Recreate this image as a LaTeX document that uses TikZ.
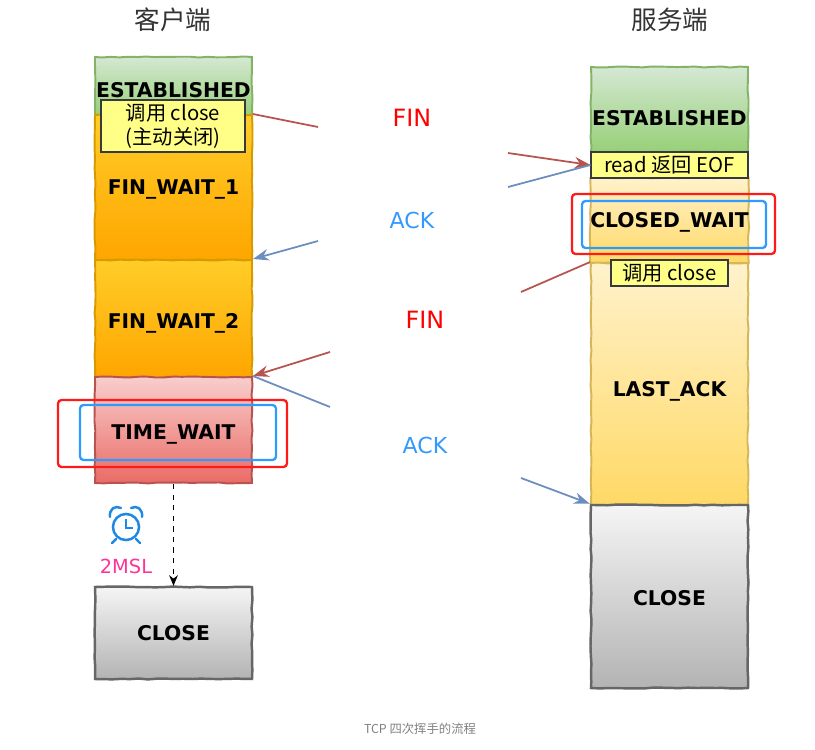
\documentclass[tikz,border=0pt]{standalone}
\usepackage{fontspec}
\setmainfont{DejaVu Sans}
\newfontfamily\cjk{Noto Sans CJK SC}
\usepackage{tikz}
\usetikzlibrary{arrows.meta}
\usetikzlibrary{decorations.pathmorphing}

\definecolor{estline}{HTML}{82B366}
\definecolor{esttop}{HTML}{D5E8D4}
\definecolor{estbot}{HTML}{97D077}
\definecolor{fwline}{HTML}{D79B00}
\definecolor{fwtop}{HTML}{FFCD28}
\definecolor{fwbot}{HTML}{FFA500}
\definecolor{twline}{HTML}{B85450}
\definecolor{twtop}{HTML}{F8CECC}
\definecolor{twbot}{HTML}{EA6B66}
\definecolor{lwline}{HTML}{D6B656}
\definecolor{lwtop}{HTML}{FFF2CC}
\definecolor{lwbot}{HTML}{FFD966}
\definecolor{clline}{HTML}{666666}
\definecolor{cltop}{HTML}{F5F5F5}
\definecolor{clbot}{HTML}{B3B3B3}
\definecolor{notefill}{HTML}{FFFF88}
\definecolor{noteline}{HTML}{36393D}
\definecolor{finred}{HTML}{B85450}
\definecolor{ackblue}{HTML}{6C8EBF}
\definecolor{finlabel}{HTML}{FF0000}
\definecolor{acklabel}{HTML}{3399FF}
\definecolor{hired}{HTML}{FF1A1A}
\definecolor{hiblue}{HTML}{2E9BFF}
\definecolor{clockblue}{HTML}{1E88E5}
\definecolor{mslpink}{HTML}{FF3399}
\newcommand\pxl{0.567pt}

\begin{document}
\begin{tikzpicture}[x=0.567pt,y=-0.567pt,
	stbox/.style={draw, line width=1.1pt, minimum width=157*\pxl, inner sep=0pt,
		text height=8.4pt, text depth=0pt,
		font=\bfseries\fontsize{11.5}{13}\selectfont,
		decorate, decoration={random steps,segment length=5pt,amplitude=0.3pt}},
	est/.style={stbox, draw=estline, top color=esttop, bottom color=estbot},
	fw/.style={stbox, draw=fwline, top color=fwtop, bottom color=fwbot},
	tw/.style={stbox, draw=twline, top color=twtop, bottom color=twbot},
	lw/.style={stbox, draw=lwline, top color=lwtop, bottom color=lwbot},
	cl/.style={stbox, draw=clline, line width=1.4pt, top color=cltop, bottom color=clbot},
	note/.style={draw=noteline, fill=notefill, line width=0.6pt, inner sep=0pt,
		font=\cjk\fontsize{11.5}{13.5}\selectfont, align=center},
	finline/.style={draw=finred, line width=1pt},
	ackline/.style={draw=ackblue, line width=1pt},
	arrowtip/.style={-{Stealth[length=9pt,width=6.5pt]}},
	msglabel/.style={font=\fontsize{12.5}{14}\selectfont},
	hibox/.style={line width=1.3pt, rounded corners=2pt}]
\useasboundingbox (0,0) rectangle (815,750);

% titles
\node[font=\cjk\fontsize{14.5}{16}\selectfont, text=black!80] (cTitle) at (173,20) {客户端};
\node[font=\cjk\fontsize{14.5}{16}\selectfont, text=black!80] (sTitle) at (670,20) {服务端};

% client states
\node[est, minimum height=58*\pxl, text height=12.9pt] (cEst) at (173.5,86) {ESTABLISHED};
\node[fw, minimum height=145*\pxl] (cFw1) at (173.5,187.5) {FIN\_WAIT\_1};
\node[fw, minimum height=117*\pxl, text height=11.2pt] (cFw2) at (173.5,318.5) {FIN\_WAIT\_2};
\node[tw, minimum height=106*\pxl, text height=10.6pt] (cTw) at (173.5,430) {TIME\_WAIT};
\node[cl, minimum height=92*\pxl] (cClose) at (173.5,633) {CLOSE};
\node[note, minimum width=144*\pxl, minimum height=52*\pxl] (cNote) at (173,126) {调用 close\\(主动关闭)};

% server states
\node[est, minimum height=85*\pxl, text height=18pt] (sEst) at (669.5,109.5) {ESTABLISHED};
\node[lw, minimum height=85*\pxl] (sCw) at (669.5,220.5) {CLOSED\_WAIT};
\node[lw, minimum height=242*\pxl, text height=14pt] (sLa) at (669.5,384) {LAST\_ACK};
\node[cl, minimum height=183*\pxl, text height=10pt] (sClose) at (669.5,596.5) {CLOSE};
\node[note, minimum width=157*\pxl, minimum height=26*\pxl] (sEof) at (669.5,165) {read 返回 EOF};
\node[note, minimum width=117*\pxl, minimum height=26*\pxl] (sNote) at (669.5,273) {调用 close};

% highlight frames
\draw[hibox, hired] (58,400) rectangle (287,467);
\draw[hibox, hiblue] (80,405) rectangle (276,460);
\draw[hibox, hired] (572,194) rectangle (775,254);
\draw[hibox, hiblue] (582,201) rectangle (766,248);

% gaps in the connectors
\coordinate (f1a) at (318,127);
\coordinate (f1b) at (508,153);
\coordinate (a1a) at (508,187);
\coordinate (a1b) at (318,241);
\coordinate (f2a) at (521,292);
\coordinate (f2b) at (330,352);
\coordinate (a2a) at (330,407);
\coordinate (a2b) at (521,478);

% FIN / ACK
\draw[finline] (cFw1.north east) -- (f1a);
\draw[finline, arrowtip] (f1b) -- (sEof.west);
\draw[ackline] (sEof.west) -- (a1a);
\draw[ackline, arrowtip] (a1b) -- (cFw2.north east);
\draw[finline] (sLa.north west) -- (f2a);
\draw[finline, arrowtip] (f2b) -- (cTw.north east);
\draw[ackline] (cTw.north east) -- (a2a);
\draw[ackline, arrowtip] (a2b) -- (sClose.north west);

\node[msglabel, font=\fontsize{13.5}{15}\selectfont, text=finlabel] (finA) at (412,118) {FIN};
\node[msglabel, text=acklabel] (ackA) at (412,220) {ACK};
\node[msglabel, font=\fontsize{13.5}{15}\selectfont, text=finlabel] (finB) at (425,320) {FIN};
\node[msglabel, text=acklabel] (ackB) at (425,445) {ACK};

% 2MSL timer
\draw[dashed, line width=0.7pt, -{Stealth[length=6pt,width=5pt]}] (cTw.south) -- (cClose.north);
\draw[clockblue, line width=1.4pt] (126,527) circle[radius=7.4pt];
\draw[clockblue, line width=1.2pt] (126,519) -- (126,528) -- (133,528);
\draw[clockblue, line width=1.4pt, line cap=round] (110,517) .. controls (109,509) and (115,505) .. (121,508);
\draw[clockblue, line width=1.4pt, line cap=round] (142,517) .. controls (143,509) and (137,505) .. (131,508);
\draw[clockblue, line width=1.4pt, line cap=round] (116,539) -- (112,543);
\draw[clockblue, line width=1.4pt, line cap=round] (136,539) -- (140,543);
\node[font=\fontsize{11}{13}\selectfont, text=mslpink] (msl) at (126,566) {2MSL};

% caption
\node[font=\cjk\fontsize{7}{8}\selectfont, text=black!50] (caption) at (420,729) {TCP 四次挥手的流程};
\end{tikzpicture}
\end{document}
